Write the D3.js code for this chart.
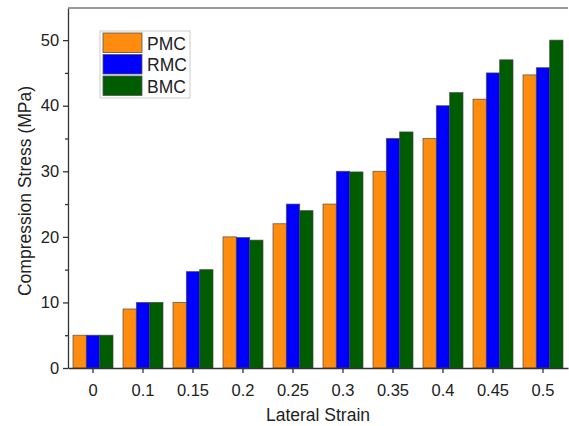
<!DOCTYPE html>
<html>
<head>
<meta charset="utf-8">
<script src="https://cdn.jsdelivr.net/npm/d3@7"></script>
<style>
  body { margin: 0; background: #fff; }
  text { font-family: "Liberation Sans", Arial, sans-serif; fill: #222; }
</style>
</head>
<body>
<svg class="chart"></svg>
<script>
// DATA /////////////////////////////////////////
const strains = ["0", "0.1", "0.15", "0.2", "0.25", "0.3", "0.35", "0.4", "0.45", "0.5"];
const seriesNames = ["PMC", "RMC", "BMC"];
const pmc = [5, 9, 10, 20, 22, 25, 30, 35, 41, 44.7];
const rmc = [5, 10, 14.7, 19.9, 25, 30, 35, 40, 45, 45.8];
const bmc = [5, 10, 15, 19.5, 24, 29.9, 36, 42, 47, 50];
const yTicks = [0, 10, 20, 30, 40, 50];
const yMinorTicks = [5, 15, 25, 35, 45];

const colors = { PMC: "#ff8c0f", RMC: "#0000ff", BMC: "#005c00" };
const seriesValues = { PMC: pmc, RMC: rmc, BMC: bmc };

// DEFINITIONS /////////////////////////////////
const W = 569, H = 426;
const margin = { top: 8, right: 1, bottom: 58, left: 68 };
const width = W - margin.left - margin.right;
const height = H - margin.top - margin.bottom;

const svg = d3.select(".chart").attr("width", W).attr("height", H);
const g = svg.append("g").attr("transform", `translate(${margin.left}, ${margin.top})`);

const x = d3.scaleBand().domain(strains).range([0, width]).paddingInner(0.2).paddingOuter(0.1);
const xs = d3.scaleBand().domain(seriesNames).range([0, x.bandwidth()]);
const y = d3.scaleLinear().domain([0, 54.9]).range([height, 0]);

// BARS /////////////////////////////////////////
const rows = strains.map((s, i) => ({ s, vals: seriesNames.map((n) => ({ n, v: seriesValues[n][i] })) }));

g.selectAll(".grp")
  .data(rows)
  .join("g")
  .attr("class", "grp")
  .attr("transform", (d) => `translate(${x(d.s)}, 0)`)
  .selectAll("rect")
  .data((d) => d.vals)
  .join("rect")
  .attr("x", (d) => xs(d.n))
  .attr("y", (d) => y(d.v))
  .attr("width", xs.bandwidth())
  .attr("height", (d) => y(0) - y(d.v))
  .attr("fill", (d) => colors[d.n])
  .attr("stroke", "#444")
  .attr("stroke-opacity", 0.8)
  .attr("stroke-width", 0.8);

// AXES /////////////////////////////////////////
const xAxis = g.append("g")
  .attr("transform", `translate(0, ${height})`)
  .call(d3.axisBottom(x).tickSize(5).tickSizeOuter(0));
xAxis.selectAll("text").attr("font-size", 16.5).attr("dy", "1.2em");

const yAxis = g.append("g")
  .call(d3.axisLeft(y).tickValues(yTicks).tickSize(5).tickSizeOuter(0));
yAxis.selectAll("text").attr("font-size", 16.5).attr("dx", "-0.05em");

g.append("g")
  .call(d3.axisLeft(y).tickValues(yMinorTicks).tickSize(3).tickFormat("").tickSizeOuter(0))
  .select(".domain").remove();

g.selectAll(".domain, .tick line").attr("stroke", "#333").attr("stroke-width", 1.3);

// top frame line
g.append("line")
  .attr("x1", 0).attr("x2", width)
  .attr("y1", 0).attr("y2", 0)
  .attr("stroke", "#777").attr("stroke-width", 1.5);

// axis titles
svg.append("text")
  .attr("x", margin.left + width / 2)
  .attr("y", 421)
  .attr("text-anchor", "middle")
  .attr("font-size", 17.5)
  .text("Lateral Strain");

svg.append("text")
  .attr("transform", `translate(31, 191) rotate(-90)`)
  .attr("text-anchor", "middle")
  .attr("font-size", 17.5)
  .text("Compression Stress (MPa)");

// LEGEND ///////////////////////////////////////
const leg = svg.append("g").attr("transform", "translate(100, 31)");
leg.append("rect")
  .attr("width", 90).attr("height", 67)
  .attr("fill", "#fff").attr("stroke", "#ccc").attr("stroke-width", 1);

const item = leg.selectAll(".item")
  .data(seriesNames)
  .join("g")
  .attr("class", "item")
  .attr("transform", (d, i) => `translate(3, ${2 + i * 21.5})`);

item.append("rect")
  .attr("width", 39).attr("height", 19.5)
  .attr("fill", (d) => colors[d])
  .attr("stroke", "#555").attr("stroke-width", 0.8);

item.append("text")
  .attr("x", 44).attr("y", 16.5)
  .attr("font-size", 17.5)
  .text((d) => d);
</script>
</body>
</html>
